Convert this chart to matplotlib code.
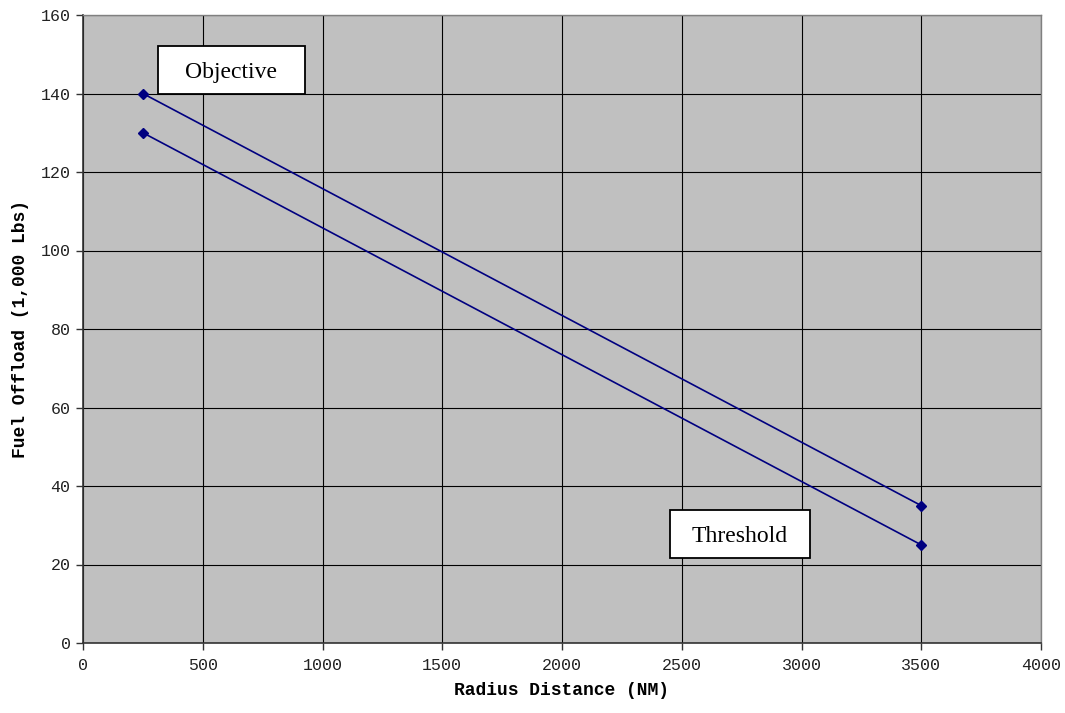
import matplotlib
matplotlib.use("Agg")
import matplotlib.pyplot as plt
from matplotlib.patches import Rectangle

radius = [250, 3500]
objective = [140, 35]
threshold = [130, 25]
x_ticks = [0, 500, 1000, 1500, 2000, 2500, 3000, 3500, 4000]
y_ticks = [0, 20, 40, 60, 80, 100, 120, 140, 160]

fig = plt.figure(figsize=(10.65, 7.13), dpi=100)
ax = fig.add_axes([83/1065, 70/713, 958/1065, 628/713])
ax.set_facecolor("#c0c0c0")

ax.plot(radius, objective, color="#000080", lw=1.2, marker="D", ms=5, zorder=3)
ax.plot(radius, threshold, color="#000080", lw=1.2, marker="D", ms=5, zorder=3)

ax.set_xlim(0, 4000)
ax.set_ylim(0, 160)
ax.set_xticks(x_ticks)
ax.set_yticks(y_ticks)
ax.grid(True, color="black", lw=0.8)
ax.set_axisbelow(True)

mono = "Liberation Mono"
ax.set_xticklabels([str(v) for v in x_ticks], family=mono, fontsize=12, color="#222222")
ax.set_yticklabels([str(v) for v in y_ticks], family=mono, fontsize=12, color="#222222")
ax.tick_params(direction="out", length=5, width=1, color="#333333", pad=4)
ax.tick_params(axis="x", pad=6)

for s in ["top", "right"]:
    ax.spines[s].set_color("#808080")
    ax.spines[s].set_linewidth(1)
for s in ["left", "bottom"]:
    ax.spines[s].set_color("#333333")
    ax.spines[s].set_linewidth(1.2)

ax.set_xlabel("Radius Distance (NM)", family=mono, fontweight="bold", fontsize=13, labelpad=6)
ax.set_ylabel("Fuel Offload (1,000 Lbs)", family=mono, fontweight="bold", fontsize=13, labelpad=8)

def label_box(x0, y0, x1, y1, text):
    ax.add_patch(Rectangle((x0, y0), x1 - x0, y1 - y0, transform=ax.transAxes,
                           facecolor="white", edgecolor="black", lw=1.3, zorder=4))
    ax.text((x0 + x1) / 2, (y0 + y1) / 2 - 0.004, text, transform=ax.transAxes,
            ha="center", va="center", family="Liberation Serif", fontsize=17, zorder=5)

label_box(0.0783, 0.874, 0.2317, 0.951, "Objective")
label_box(0.6127, 0.1354, 0.7589, 0.2118, "Threshold")

fig.savefig("out.png", dpi=100)
